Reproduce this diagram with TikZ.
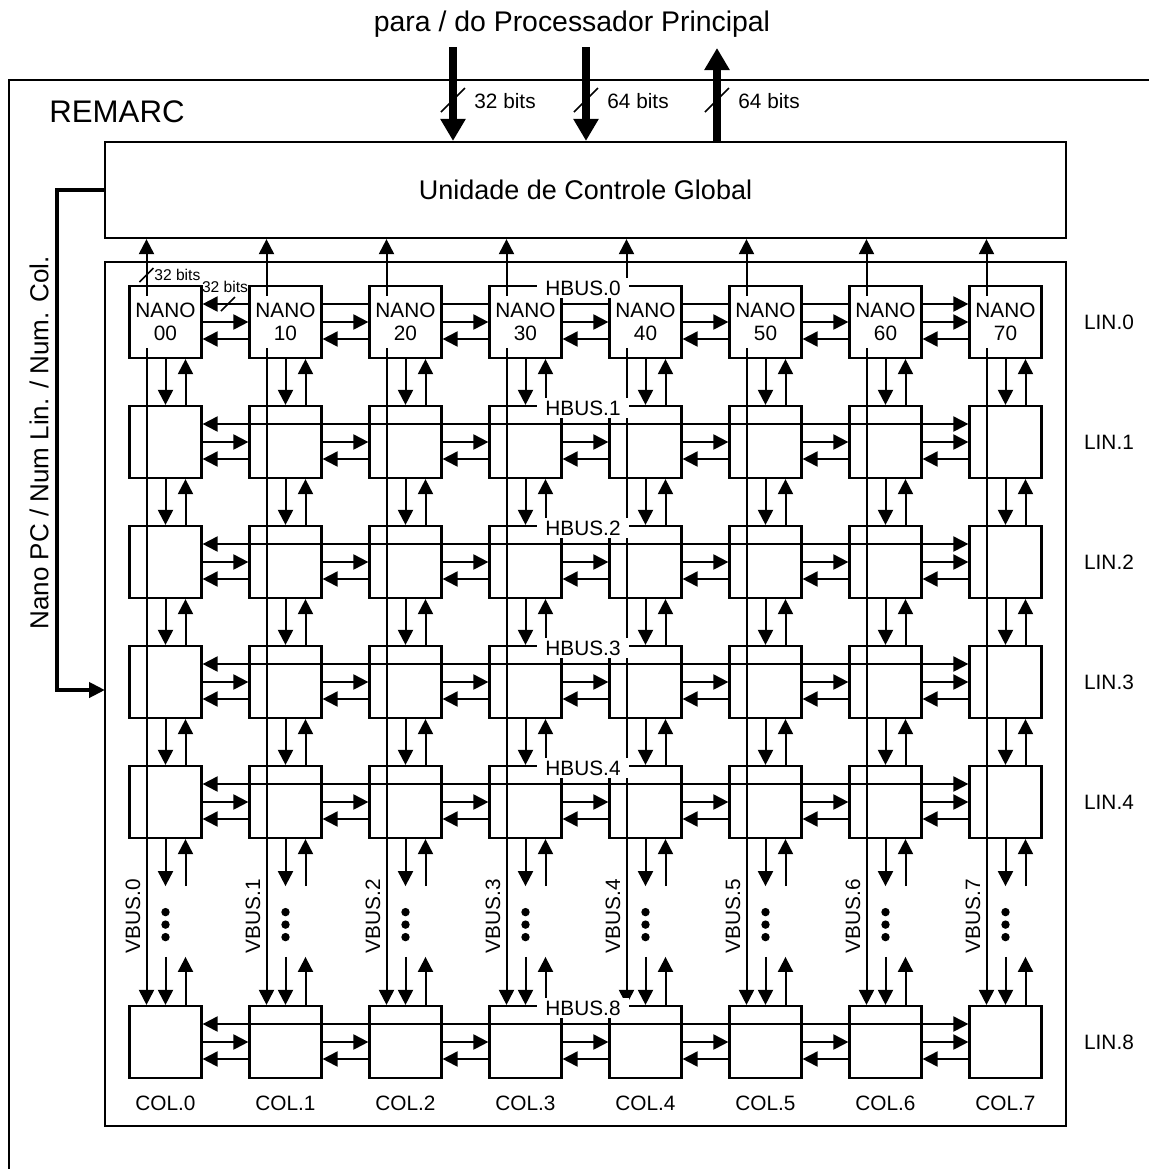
\documentclass[tikz,border=0pt]{standalone}
\usepackage{fontspec}
\setmainfont{Liberation Sans}
\usetikzlibrary{arrows.meta}

\begin{document}
\begin{tikzpicture}[x=0.5pt,y=-0.5pt,font=\fontsize{10.4}{11.6}\selectfont,
 box/.style={draw,line width=1.1pt},
 cell/.style={box,minimum width=36pt,minimum height=36pt,inner sep=0pt},
 nano/.style={fill=white,minimum width=34.5pt,minimum height=26pt,inner sep=0pt,align=center},
 sig/.style={line width=1pt,-{Triangle[length=7.5pt,width=7.5pt]}},
 dsig/.style={line width=1pt,{Triangle[length=7.5pt,width=7.5pt]}-{Triangle[length=7.5pt,width=7.5pt]}},
 wide/.style={line width=3.6pt,-{Triangle[length=11pt,width=12pt]}},
 tick/.style={line width=0.8pt},
 big/.style={font=\fontsize{13}{15}\selectfont},
 small/.style={font=\fontsize{7.8}{9}\selectfont,inner sep=0.5pt},
 hbus/.style={fill=white,inner xsep=4pt,inner ysep=1.5pt}]
\useasboundingbox (0,0) rectangle (1148,1169);
\draw[line width=1.1pt] (9,1180) |- (1160,80);
\node[font=\fontsize{14.2}{16}\selectfont] (host) at (572,24) {para / do Processador Principal};
\node[font=\fontsize{15.6}{18}\selectfont] (remarc) at (117,112) {REMARC};
\node[box,font=\fontsize{13.5}{15}\selectfont,minimum width=480.5pt,minimum height=48pt] (gcu) at (585.5,190) {Unidade de Controle Global};
\node[box,minimum width=480.5pt,minimum height=432pt] (array) at (585.5,694) {};
% matriz de nanoprocessadores
\foreach \k/\r in {0/0,1/1,2/2,3/3,4/4,6/8}
 \foreach \c in {0,...,7}
  \node[cell] (n\c\r) at (165.5+120*\c,322+120*\k) {};
% barramentos com o processador principal
\coordinate (in32) at (453,47); \coordinate (in64) at (586,47); \coordinate (out64) at (717,48);
\draw[wide] (in32) -- (in32|-gcu.north);
\draw[wide] (in64) -- (in64|-gcu.north);
\draw[wide] (out64|-gcu.north) -- (out64);
\foreach \x/\nb [count=\i] in {453/32,586/64,717/64}{
 \draw[tick] (\x,100) ++(-12,12) -- ++(24,-24);
 \node[anchor=west,inner sep=0pt] (w\i) at (\x+21,101) {\nb\ bits};}
\coordinate (fbin) at (105,690);
\draw[line width=2pt,-{Triangle[length=8pt,width=7.5pt]}] (gcu.west) -- ++(-47,0) |- (fbin);
\node[big,rotate=90] (fblabel) at (39,443) {Nano PC / Num Lin. / Num. Col.};
% HBUS
\foreach \k/\r in {0/0,1/1,2/2,3/3,4/4,6/8}{
 \draw[dsig] ([yshift=9pt]n0\r.east) -- ([yshift=9pt]n7\r.west);
 \foreach \c [evaluate=\c as \e using int(\c+1)] in {0,...,6}{
  \draw[sig] (n\c\r.east) -- (n\e\r.west);
  \draw[sig] ([yshift=-8.5pt]n\e\r.west) -- ([yshift=-8.5pt]n\c\r.east);}
 \node (lin\r) at (1109,322+120*\k) {LIN.\r};}
% VBUS
\foreach \c in {0,...,7}{
 \coordinate (v\c) at ([xshift=-9.5pt]n\c0.north);
 \draw[dsig] (v\c|-gcu.south) -- (v\c|-n\c8.north);
 \foreach \r/\s in {0/1,1/2,2/3,3/4}{
  \draw[sig] (n\c\r.south) -- (n\c\s.north);
  \draw[sig] ([xshift=10pt]n\c\s.north) -- ([xshift=10pt]n\c\r.south);}
 \coordinate (dt\c) at ([yshift=-23.5pt]n\c4.south);
 \coordinate (db\c) at ([yshift=24pt]n\c8.north);
 \draw[sig] (n\c4.south) -- (dt\c);
 \draw[sig] ([xshift=10pt]dt\c) -- ([xshift=10pt]n\c4.south);
 \draw[sig] (db\c) -- (n\c8.north);
 \draw[sig] ([xshift=10pt]n\c8.north) -- ([xshift=10pt]db\c);
 \foreach \d in {0,1,2} \fill (dt\c) ++(0,26+12.5*\d) circle (2.1pt);
 \node[rotate=90] (vl\c) at (133+120*\c,916) {VBUS.\c};
 \node (col\c) at (165.5+120*\c,1103) {COL.\c};
 \node[nano] (t\c) at (n\c0) {NANO\\\c0};}
\draw[tick] (v0|-0,275) ++(-7,7) -- ++(14,-14);
\node[small,anchor=west] (bits1) at (153,275) {32 bits};
\draw[tick] (228,304) ++(-7,7) -- ++(14,-14);
\node[small] (bits2) at (225,287) {32 bits};
\foreach \k/\r in {0/0,1/1,2/2,3/3,4/4,6/8}
 \node[hbus] (hb\r) at (583,288+120*\k) {HBUS.\r};
\end{tikzpicture}
\end{document}
